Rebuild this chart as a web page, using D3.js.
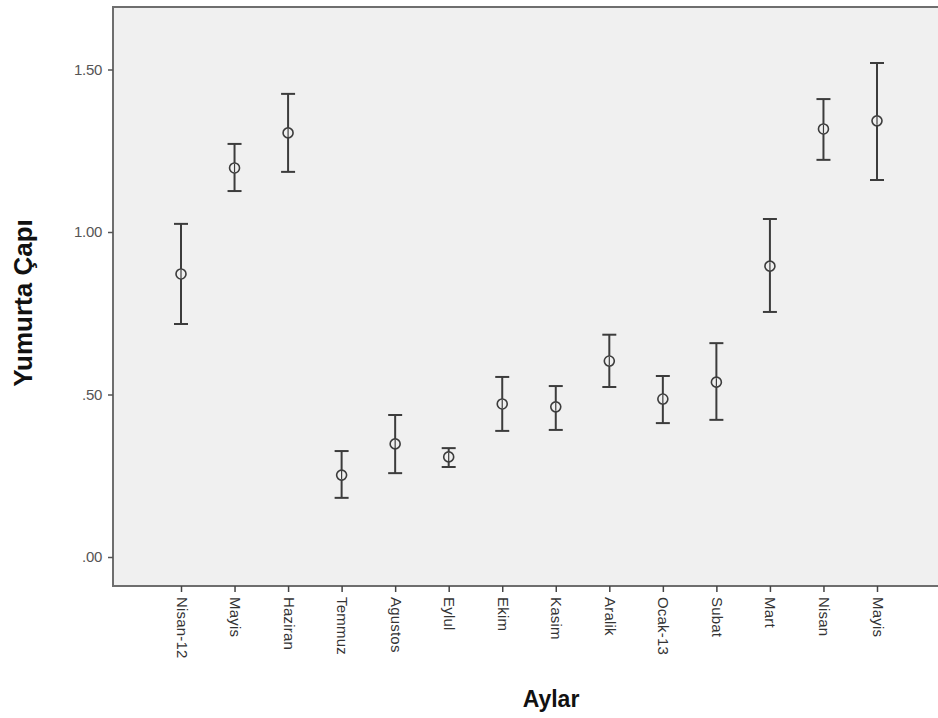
<!DOCTYPE html>
<html>
<head>
<meta charset="utf-8">
<script src="https://cdn.jsdelivr.net/npm/d3@7"></script>
<style>
  html, body { margin: 0; padding: 0; background: #ffffff; }
  svg { display: block; }
</style>
</head>
<body>
<svg id="chart" width="938" height="718"></svg>
<script>
// Monthly egg diameter: mean with error bar bounds
const months = ["Nisan-12", "Mayis", "Haziran", "Temmuz", "Agustos", "Eylul", "Ekim",
                "Kasim", "Aralik", "Ocak-13", "Subat", "Mart", "Nisan", "Mayis"];
const means = [0.871, 1.197, 1.305, 0.252, 0.348, 0.308, 0.471,
               0.462, 0.603, 0.486, 0.538, 0.895, 1.317, 1.342];
const upper = [1.025, 1.271, 1.425, 0.326, 0.437, 0.335, 0.554,
               0.526, 0.684, 0.557, 0.658, 1.040, 1.409, 1.520];
const lower = [0.717, 1.126, 1.185, 0.182, 0.258, 0.277, 0.388,
               0.391, 0.523, 0.412, 0.422, 0.754, 1.222, 1.160];
const yTicks = [0, 0.5, 1.0, 1.5];

const svg = d3.select("#chart");
const frame = { left: 113, top: 7, right: 940, bottom: 586 };
const font = "'Liberation Sans', Arial, sans-serif";

const x = d3.scalePoint()
  .domain(d3.range(months.length))
  .range([181, 877]);

const y = d3.scaleLinear()
  .domain([0, 1.5])
  .range([557, 69.5]);

// Plot background
svg.append("rect")
  .attr("x", frame.left).attr("y", frame.top)
  .attr("width", frame.right - frame.left)
  .attr("height", frame.bottom - frame.top)
  .attr("fill", "#f0f0f0")
  .attr("stroke", "#6e6e6e")
  .attr("stroke-width", 2);

// SPSS-style tick labels: drop the leading zero
const fmt = v => d3.format(".2f")(v).replace(/^0\./, ".");

// Y axis
const yAxis = svg.append("g")
  .attr("transform", `translate(${frame.left},0)`)
  .call(d3.axisLeft(y).tickValues(yTicks).tickFormat(fmt).tickSize(5).tickPadding(6));
yAxis.select(".domain").remove();
yAxis.selectAll(".tick line").attr("stroke", "#555").attr("stroke-width", 1.5);
yAxis.selectAll(".tick text")
  .attr("fill", "#555")
  .style("font-family", font)
  .style("font-size", "15px")
  .style("letter-spacing", "-0.3px");

// X axis
const xAxis = svg.append("g")
  .attr("transform", `translate(0,${frame.bottom})`)
  .call(d3.axisBottom(x).tickFormat(i => months[i]).tickSize(6).tickPadding(2));
xAxis.select(".domain").remove();
xAxis.selectAll(".tick line").attr("stroke", "#444").attr("stroke-width", 1.5);
xAxis.selectAll(".tick text")
  .attr("fill", "#333")
  .style("font-family", font)
  .style("font-size", "15px")
  .style("letter-spacing", "0.2px")
  .attr("text-anchor", "start")
  .attr("dy", null)
  .attr("y", 0)
  .attr("x", 0)
  .attr("transform", "translate(-5,11) rotate(90)");

// Error bars
const bars = svg.append("g");
const capW = 7;
months.forEach((m, i) => {
  const cx = x(i);
  const g = bars.append("g").attr("stroke", "#3c3c3c").attr("fill", "none");
  g.append("line")
    .attr("x1", cx).attr("x2", cx)
    .attr("y1", y(upper[i])).attr("y2", y(lower[i]))
    .attr("stroke-width", 2);
  g.append("line")
    .attr("x1", cx - capW).attr("x2", cx + capW)
    .attr("y1", y(upper[i])).attr("y2", y(upper[i]))
    .attr("stroke-width", 2);
  g.append("line")
    .attr("x1", cx - capW).attr("x2", cx + capW)
    .attr("y1", y(lower[i])).attr("y2", y(lower[i]))
    .attr("stroke-width", 2);
  g.append("circle")
    .attr("cx", cx).attr("cy", y(means[i]))
    .attr("r", 5)
    .attr("fill", "#f0f0f0")
    .attr("stroke-width", 1.6);
  g.append("line")
    .attr("x1", cx).attr("x2", cx)
    .attr("y1", y(means[i]) - 4).attr("y2", y(means[i]) + 4)
    .attr("stroke-width", 1.2);
});

// Axis titles
svg.append("text")
  .attr("x", 551).attr("y", 707)
  .attr("text-anchor", "middle")
  .style("font-family", font)
  .style("font-weight", "bold")
  .style("font-size", "23px")
  .attr("fill", "#111")
  .text("Aylar");

svg.append("text")
  .attr("transform", "translate(32,303) rotate(-90)")
  .attr("text-anchor", "middle")
  .style("font-family", font)
  .style("font-weight", "bold")
  .style("font-size", "26px")
  .attr("fill", "#111")
  .text("Yumurta Çapı");
</script>
</body>
</html>
